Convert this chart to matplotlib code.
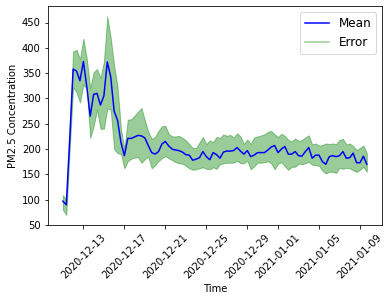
import matplotlib
matplotlib.use("Agg")
import matplotlib.pyplot as plt
import pandas as pd

# 8-hourly PM2.5 readings
times = pd.date_range("2020-12-11", periods=90, freq="8h")

mean = [97, 90, 220, 358, 354, 335, 373, 323, 265, 308,
        310, 287, 305, 372, 343, 275, 257, 213, 187, 221,
        221, 224, 227, 226, 222, 207, 193, 190, 195, 210,
        215, 206, 200, 198, 197, 194, 189, 188, 178, 180,
        183, 195, 185, 179, 193, 189, 182, 194, 196, 196,
        197, 203, 196, 190, 197, 185, 188, 193, 193, 193,
        198, 204, 207, 193, 200, 205, 190, 190, 195, 187,
        186, 195, 203, 182, 188, 188, 175, 170, 185, 187,
        185, 187, 195, 182, 183, 192, 173, 173, 186, 170]

upper = [109, 100, 240, 393, 396, 378, 418, 378, 320, 352,
         358, 340, 372, 462, 420, 365, 323, 240, 200, 258,
         259, 266, 274, 281, 257, 234, 220, 224, 236, 245,
         246, 230, 225, 225, 226, 222, 217, 210, 202, 202,
         213, 224, 210, 217, 214, 224, 222, 229, 226, 228,
         223, 231, 225, 210, 219, 210, 223, 225, 227, 229,
         234, 236, 229, 224, 230, 226, 218, 215, 221, 216,
         218, 223, 227, 209, 211, 207, 208, 211, 210, 211,
         210, 218, 220, 209, 211, 206, 198, 202, 207, 192]

lower = [80, 70, 200, 322, 312, 292, 328, 318, 222, 245,
         278, 240, 240, 280, 278, 200, 192, 190, 162, 176,
         181, 183, 184, 173, 180, 185, 162, 168, 176, 182,
         186, 182, 178, 174, 172, 171, 167, 162, 159, 160,
         162, 164, 161, 160, 164, 161, 170, 172, 173, 173,
         173, 177, 172, 172, 177, 160, 166, 173, 173, 174,
         176, 172, 160, 171, 174, 166, 159, 165, 165, 171,
         170, 172, 175, 169, 168, 167, 157, 152, 155, 155,
         153, 163, 161, 163, 162, 158, 155, 159, 165, 155]

fig = plt.figure(figsize=(391 / 72, 300 / 72), dpi=72)
ax = fig.add_axes([0.122, 0.25, 0.855, 0.729])

ax.fill_between(times, lower, upper, color="g", alpha=0.4)
ax.plot(times, mean, color="b", label="Mean")
ax.plot([], [], color="g", alpha=0.4, label="Error")

ax.set_ylim(50, 482)
ax.set_xlabel("Time")
ax.set_ylabel("PM2.5 Concentration")
ax.tick_params(axis="x", rotation=45)
ax.legend(loc="upper right", fontsize=12)

fig.savefig("out.png", dpi=72)
